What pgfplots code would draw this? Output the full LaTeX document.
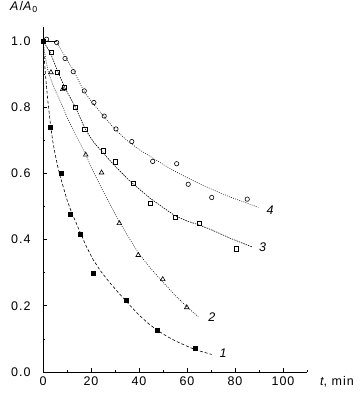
\documentclass[border=0pt]{standalone}
\usepackage{pgfplots}
\pgfplotsset{compat=1.18}
\usepackage{fontspec}
\setmainfont[LetterSpace=8]{Liberation Sans}
\begin{document}
\begin{tikzpicture}[font=\fontsize{12.5}{14}\selectfont]
\path[use as bounding box] (0,0) rectangle (363pt,406pt);
\begin{axis}[
  at={(43pt,34pt)}, anchor=south west,
  scale only axis, width=264pt, height=345pt,
  xmin=0, xmax=110, ymin=0, ymax=1.042,
  axis x line*=bottom, axis y line*=left,
  axis line style={-, line width=0.8pt},
  clip=false,
  tick align=inside,
  major tick length=3.5pt, minor tick length=2pt,
  every tick/.style={black, line width=0.6pt},
  xtick={0,20,...,100}, minor xtick={10,30,50,70,90,110},
  ytick={0,0.2,0.4,0.6,0.8,1.0}, minor ytick={0.1,0.3,0.5,0.7,0.9},
  /pgf/number format/assume math mode=true,
  yticklabel style={/pgf/number format/fixed, /pgf/number format/fixed zerofill, /pgf/number format/precision=1, xshift=-9pt},
  xticklabel style={/pgf/number format/fixed, /pgf/number format/precision=0, yshift=-1pt},
  every tick label/.append style={font=\fontsize{12.5}{14}\selectfont},
]
% curve 1: filled squares, dashed fit
\addplot[black, line width=0.6pt, dash pattern=on 3pt off 2pt] coordinates {
(0,1.0)(1,0.90)(2,0.82)(3,0.755)(4,0.70)(5,0.66)(6,0.625)(7,0.595)(8,0.57)
(10,0.52)(12,0.48)(13.3,0.459)(15,0.43)(18,0.38)(21,0.338)(24,0.305)(28,0.268)
(32,0.235)(36,0.203)(40,0.172)(44,0.146)(47.4,0.127)(52,0.106)(56,0.091)
(60,0.078)(64,0.066)(70.3,0.053)};
\addplot[only marks, mark=square*, mark size=2.1pt, black] coordinates {
(0,1.0)(2.9,0.74)(7.5,0.60)(11.3,0.477)(15.4,0.417)(21,0.298)(34.6,0.217)(47.6,0.127)(63.3,0.073)};
% curve 2: open triangles, dotted fit
\addplot[black, line width=0.6pt, dash pattern=on 0.8pt off 1.4pt] coordinates {
(0,1.0)(1,0.95)(2.2,0.905)(4.5,0.86)(7.1,0.82)(10,0.77)(13.3,0.72)(17.8,0.656)
(21,0.605)(24.4,0.555)(28,0.505)(31.4,0.46)(35,0.415)(39.7,0.36)(44.6,0.315)
(49.9,0.272)(55,0.232)(59.9,0.197)(64.7,0.167)};
\addplot[only marks, mark=triangle, mark size=2.7pt, black, mark options={line width=0.6pt}] coordinates {
(3.3,0.905)(8.2,0.854)(17.8,0.656)(24.4,0.602)(31.8,0.449)(39.7,0.353)(49.9,0.28)(59.9,0.195)};
% curve 3: open squares, fine line
\addplot[black, line width=0.6pt, dash pattern=on 1.5pt off 1pt] coordinates {
(0,1.0)(3,0.965)(6,0.91)(9,0.86)(13.5,0.80)(17.5,0.735)(21,0.695)(25,0.662)
(30,0.622)(36,0.578)(40,0.553)(44.6,0.525)(50,0.497)(55,0.472)(60,0.456)
(64.7,0.445)(70,0.43)(78,0.404)(87,0.378)};
\addplot[only marks, mark=square, mark size=2.1pt, black, mark options={line width=0.6pt, fill=white}] coordinates {
(3.6,0.966)(6,0.905)(8.75,0.86)(13.5,0.80)(17.4,0.733)(25,0.668)(30,0.635)(37.6,0.571)
(44.6,0.51)(55.2,0.468)(65,0.45)(80.4,0.372)};
% curve 4: open circles
\addplot[black, line width=0.6pt] coordinates {(0,1.0)(5.5,1.0)};
\addplot[black, line width=0.6pt, dash pattern=on 0.8pt off 1.4pt] coordinates {
(5.5,1.0)(9,0.955)(12.6,0.912)(16.8,0.852)(20,0.818)(23.75,0.786)(26.5,0.762)
(30,0.733)(34.9,0.70)(40,0.672)(46,0.645)(50,0.627)(57,0.598)(64,0.573)
(70,0.553)(78,0.528)(84,0.513)(89.7,0.497)};
\addplot[only marks, mark=o, mark size=2.2pt, black, mark options={line width=0.6pt}] coordinates {
(1.5,1.005)(5.7,0.995)(9.2,0.947)(12.6,0.907)(17.2,0.849)(21.2,0.814)(25.5,0.773)
(30.4,0.734)(37,0.696)(45.7,0.636)(55.7,0.629)(60.5,0.567)(70.3,0.527)(85.1,0.522)};
% curve labels
\node[font=\fontsize{12.5}{14}\selectfont\itshape] at (axis cs:75,0.057) {1};
\node[font=\fontsize{12.5}{14}\selectfont\itshape] at (axis cs:70.4,0.167) {2};
\node[font=\fontsize{12.5}{14}\selectfont\itshape] at (axis cs:91.5,0.378) {3};
\node[font=\fontsize{12.5}{14}\selectfont\itshape] at (axis cs:94.6,0.49) {4};
\end{axis}
\node[anchor=base west, inner sep=0pt] at (10pt,395pt) {\textit{A}/\textit{A}\textsubscript{0}};
\node[anchor=base west, inner sep=0pt] at (320pt,20pt) {\textit{t}, min};
\end{tikzpicture}
\end{document}
